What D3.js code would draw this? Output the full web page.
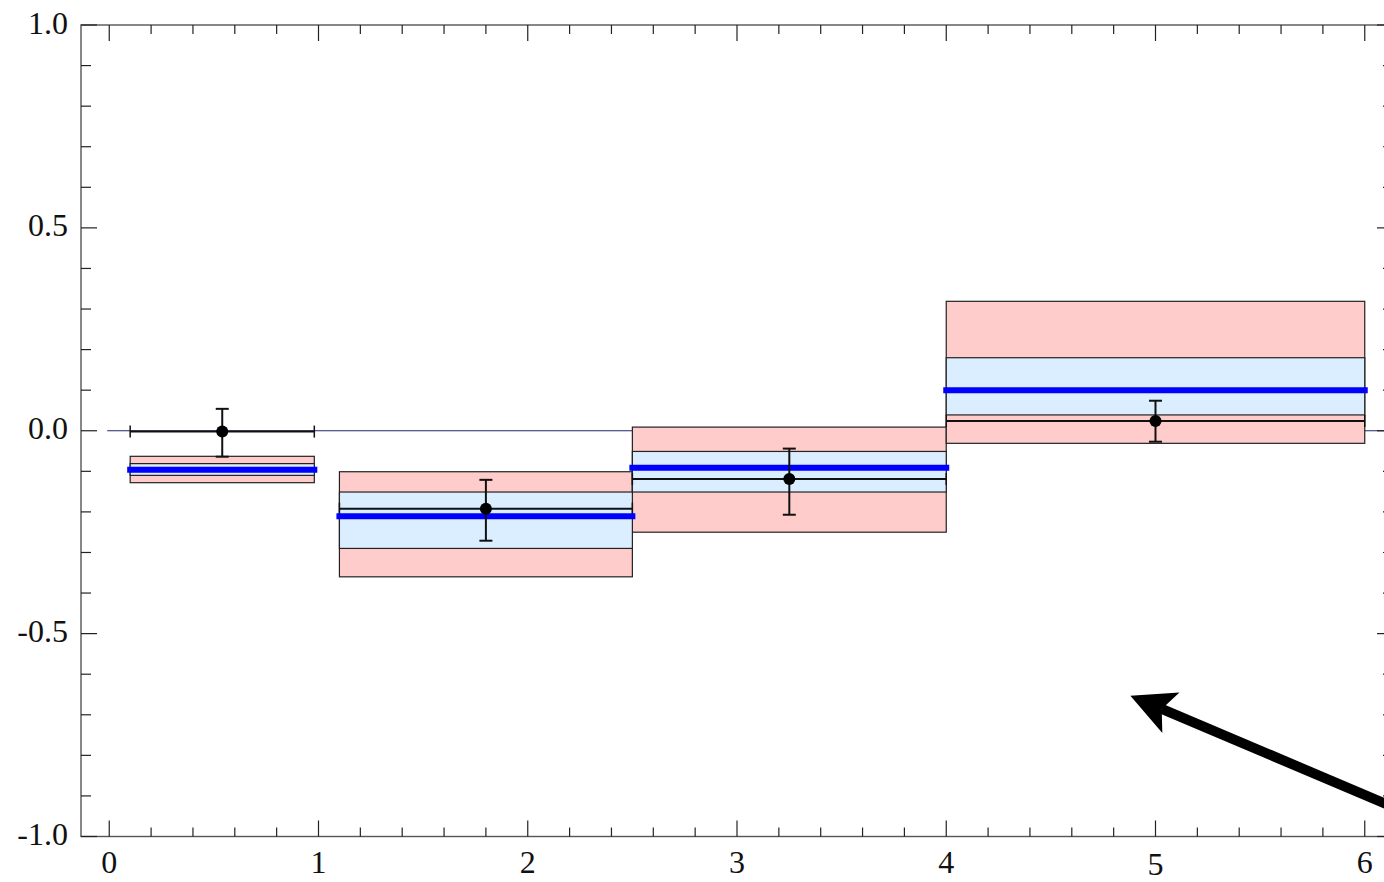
<!DOCTYPE html>
<html>
<head>
<meta charset="utf-8">
<script src="https://cdn.jsdelivr.net/npm/d3@7"></script>
<style>
  html,body{margin:0;padding:0;background:#fff;overflow:hidden;}
  svg{display:block;}
  text{font-family:"Liberation Serif","Times New Roman",serif;font-size:32px;fill:#111;}
</style>
</head>
<body>
<div id="chart"></div>
<script>
const width=1384;
const height=882;

//bins (x ranges)
const binLo=[0.1,1.1,2.5,4.0];
const binHi=[0.98,2.5,4.0,6.0];
//outer (pink) band
const outerLo=[-0.128,-0.360,-0.250,-0.031];
const outerHi=[-0.063,-0.101,0.009,0.319];
//inner (light blue) band
const innerLo=[-0.110,-0.290,-0.151,0.039];
const innerHi=[-0.081,-0.151,-0.051,0.180];
//thick blue line in every bin
const centralVals=[-0.096,-0.211,-0.091,0.100];
//data points with errors
const pointX=[0.54,1.80,3.25,5.0];
const pointY=[-0.002,-0.192,-0.119,0.024];
const errLo=[-0.064,-0.271,-0.207,-0.027];
const errHi=[0.054,-0.121,-0.044,0.074];
//ticks
const xTicks=[0,1,2,3,4,5,6];
const yTicks=[-1.0,-0.5,0.0,0.5,1.0];
//arrow (from tail to tip)
const arrowFrom=[6.3,-0.963];
const arrowTo=[4.88,-0.653];

const svg=d3.select("#chart")
          .append("svg")
          .attr("width",width)
          .attr("height",height);

const x=d3.scaleLinear().domain([-0.135,6.135]).range([81,1393]);
const y=d3.scaleLinear().domain([-1,1]).range([836.5,25]);

const bins=binLo.map((lo,i)=>({
    lo:lo,hi:binHi[i],
    oLo:outerLo[i],oHi:outerHi[i],
    iLo:innerLo[i],iHi:innerHi[i],
    c:centralVals[i],
    px:pointX[i],py:pointY[i],eLo:errLo[i],eHi:errHi[i]
}));

//zero line
svg.append("line")
    .attr("x1",x(0)-2).attr("x2",x(6.135))
    .attr("y1",y(0)).attr("y2",y(0))
    .attr("stroke","#23236e").attr("stroke-width",1.2);

//pink boxes
svg.append("g").selectAll("rect")
    .data(bins).enter()
    .append("rect")
    .attr("x",d=>x(d.lo))
    .attr("width",d=>x(d.hi)-x(d.lo))
    .attr("y",d=>y(d.oHi))
    .attr("height",d=>y(d.oLo)-y(d.oHi))
    .attr("fill","#ffcccc")
    .attr("stroke","#222").attr("stroke-width",1.2);

//blue boxes
svg.append("g").selectAll("rect")
    .data(bins).enter()
    .append("rect")
    .attr("x",d=>x(d.lo))
    .attr("width",d=>x(d.hi)-x(d.lo))
    .attr("y",d=>y(d.iHi))
    .attr("height",d=>y(d.iLo)-y(d.iHi))
    .attr("fill","#dbeeff")
    .attr("stroke","#222").attr("stroke-width",1.2);

//horizontal error bars
const pts=svg.append("g");
bins.forEach(d=>{
    pts.append("line")
        .attr("x1",x(d.lo)).attr("x2",x(d.hi))
        .attr("y1",y(d.py)).attr("y2",y(d.py))
        .attr("stroke","#111").attr("stroke-width",2);
    [d.lo,d.hi].forEach(v=>{
        pts.append("line")
            .attr("x1",x(v)).attr("x2",x(v))
            .attr("y1",y(d.py)-6).attr("y2",y(d.py)+6)
            .attr("stroke","#111").attr("stroke-width",1.5);
    });
});

//thick blue lines
svg.append("g").selectAll("line")
    .data(bins).enter()
    .append("line")
    .attr("x1",d=>x(d.lo)).attr("x2",d=>x(d.hi))
    .attr("y1",d=>y(d.c)).attr("y2",d=>y(d.c))
    .attr("stroke","#0000ff").attr("stroke-width",6)
    .attr("stroke-linecap","square");

//vertical error bars and points
const vb=svg.append("g");
bins.forEach(d=>{
    vb.append("line")
        .attr("x1",x(d.px)).attr("x2",x(d.px))
        .attr("y1",y(d.eHi)).attr("y2",y(d.eLo))
        .attr("stroke","#111").attr("stroke-width",2);
    [d.eLo,d.eHi].forEach(v=>{
        vb.append("line")
            .attr("x1",x(d.px)-6.5).attr("x2",x(d.px)+6.5)
            .attr("y1",y(v)).attr("y2",y(v))
            .attr("stroke","#111").attr("stroke-width",2);
    });
    vb.append("circle")
        .attr("cx",x(d.px)).attr("cy",y(d.py))
        .attr("r",6).attr("fill","#000");
});

//frame
const x0=x.range()[0],x1=x.range()[1],y0=y.range()[0],y1=y.range()[1];
svg.append("rect")
    .attr("x",x0).attr("y",y1)
    .attr("width",x1-x0).attr("height",y0-y1)
    .attr("fill","none").attr("stroke","#555").attr("stroke-width",1.4);

//ticks on all four sides
const xMinor=d3.range(0,6.001,0.2).filter(v=>Math.abs(v-Math.round(v))>1e-6);
const yMinor=d3.range(-1,1.001,0.1).filter(v=>Math.abs(v*2-Math.round(v*2))>1e-6);
const tk=svg.append("g").attr("stroke","#222").attr("stroke-width",1.2);
xTicks.concat(xMinor).forEach(v=>{
    const len=xTicks.includes(v)?16:9;
    tk.append("line").attr("x1",x(v)).attr("x2",x(v)).attr("y1",y0).attr("y2",y0-len);
    tk.append("line").attr("x1",x(v)).attr("x2",x(v)).attr("y1",y1).attr("y2",y1+len);
});
yTicks.concat(yMinor).forEach(v=>{
    const len=yTicks.includes(v)?16:10;
    tk.append("line").attr("x1",x0).attr("x2",x0+len).attr("y1",y(v)).attr("y2",y(v));
    tk.append("line").attr("x1",x1).attr("x2",x1-len).attr("y1",y(v)).attr("y2",y(v));
});

//tick labels
svg.append("g").selectAll("text")
    .data(xTicks).enter()
    .append("text")
    .attr("x",d=>x(d))
    .attr("y",d=>d===5?875:873)
    .attr("text-anchor","middle")
    .text(d=>d);

svg.append("g").selectAll("text")
    .data(yTicks).enter()
    .append("text")
    .attr("x",68)
    .attr("y",d=>y(d)+8.5)
    .attr("text-anchor","end")
    .text(d=>d3.format(".1f")(d).replace("−","-"));

//arrow
const ax=x(arrowFrom[0]),ay=y(arrowFrom[1]);
const bx=x(arrowTo[0]),by=y(arrowTo[1]);
const len=Math.hypot(ax-bx,ay-by);
const ux=(ax-bx)/len,uy=(ay-by)/len;   //unit from tip towards tail
const nx=-uy,ny=ux;
const headLen=44,headHalf=22,notch=34;
svg.append("line")
    .attr("x1",ax).attr("y1",ay)
    .attr("x2",bx+ux*notch).attr("y2",by+uy*notch)
    .attr("stroke","#000").attr("stroke-width",10);
svg.append("path")
    .attr("d",`M${bx},${by}`
        +`L${bx+ux*headLen+nx*headHalf},${by+uy*headLen+ny*headHalf}`
        +`L${bx+ux*notch},${by+uy*notch}`
        +`L${bx+ux*headLen-nx*headHalf},${by+uy*headLen-ny*headHalf}Z`)
    .attr("fill","#000");
</script>
</body>
</html>
